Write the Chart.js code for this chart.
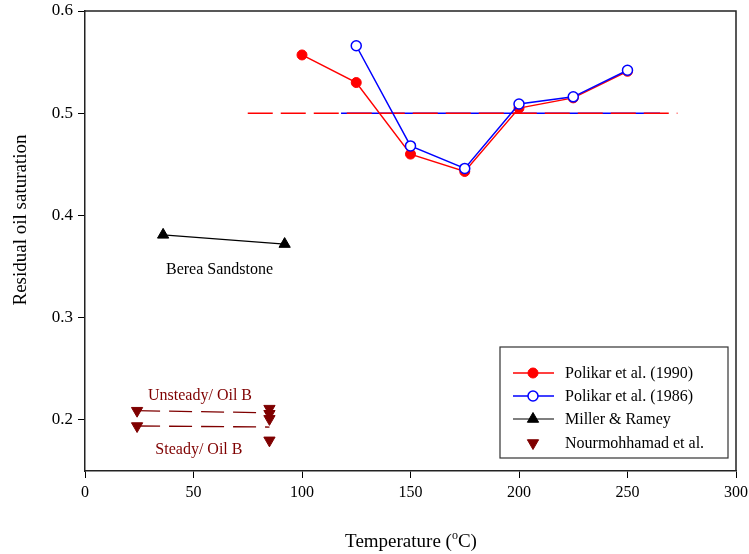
<!DOCTYPE html>
<html>
<head>
<meta charset="utf-8">
<script src="https://cdn.jsdelivr.net/npm/chart.js@4/dist/chart.umd.min.js"></script>
<style>
  html, body { margin: 0; padding: 0; background: #fff; }
  #wrap { width: 749px; height: 554px; }
</style>
</head>
<body>
<div id="wrap"><canvas id="c" width="749" height="554"></canvas></div>
<script>
// Axis ticks
const xTicks = [0, 50, 100, 150, 200, 250, 300];
const yTicks = [0.2, 0.3, 0.4, 0.5, 0.6];

// Polikar et al. (1990)
const polikar1990T = [100, 125, 150, 175, 200, 225, 250];
const polikar1990S = [0.557, 0.530, 0.460, 0.443, 0.505, 0.515, 0.541];

// Polikar et al. (1986)
const polikar1986T = [125, 150, 175, 200, 225, 250];
const polikar1986S = [0.566, 0.468, 0.446, 0.509, 0.516, 0.542];

// Miller & Ramey (Berea sandstone)
const millerT = [36, 92];
const millerS = [0.381, 0.372];

// Nourmohhamad et al.
const nourT = [24, 24, 85, 85, 85, 85];
const nourS = [0.209, 0.194, 0.211, 0.206, 0.201, 0.180];

// Trend lines through the Oil B runs
const unsteadyT = [24, 85];
const unsteadyS = [0.209, 0.207];
const steadyT = [24, 85];
const steadyS = [0.194, 0.193];

// Mean level lines for the two Polikar sets
const mean1990T = [75, 273];
const mean1990S = [0.5, 0.5];
const mean1986T = [118, 265];
const mean1986S = [0.5, 0.5];

// In-plot labels
const noteText = ['Berea Sandstone', 'Unsteady/ Oil B', 'Steady/ Oil B'];
const noteT = [62, 53, 52.5];
const noteS = [0.347, 0.2233, 0.1705];
const noteColor = ['#000000', '#7f0000', '#7f0000'];

const RED = '#ff0000', BLUE = '#0000ff', MAROON = '#7f0000';
const FONT = '"Liberation Serif", "Times New Roman", serif';

const pts = (xs, ys) => xs.map((x, i) => ({ x: x, y: ys[i] }));

// top and right sides of the plot frame
const framePlugin = {
  id: 'frame',
  afterDraw(chart) {
    const { ctx, chartArea: a } = chart;
    ctx.save();
    ctx.strokeStyle = '#222';
    ctx.lineWidth = 1.5;
    ctx.beginPath();
    ctx.moveTo(a.left, a.top);
    ctx.lineTo(a.right, a.top);
    ctx.lineTo(a.right, a.bottom);
    ctx.stroke();
    ctx.restore();
  }
};

// text labels placed at data coordinates
const notesPlugin = {
  id: 'notes',
  afterDatasetsDraw(chart) {
    const { ctx, scales } = chart;
    ctx.save();
    ctx.font = '16px ' + FONT;
    ctx.textAlign = 'center';
    ctx.textBaseline = 'middle';
    noteText.forEach((t, i) => {
      ctx.fillStyle = noteColor[i];
      ctx.fillText(t, scales.x.getPixelForValue(noteT[i]), scales.y.getPixelForValue(noteS[i]));
    });
    ctx.restore();
  }
};

// axis titles (x title carries a superscript "o")
const titlesPlugin = {
  id: 'titles',
  afterDraw(chart) {
    const { ctx } = chart;
    ctx.save();
    ctx.fillStyle = '#000';
    ctx.textBaseline = 'alphabetic';
    const big = '19px ' + FONT, small = '12px ' + FONT;
    const p1 = 'Temperature (', p2 = 'o', p3 = 'C)';
    ctx.font = big; const w1 = ctx.measureText(p1).width, w3 = ctx.measureText(p3).width;
    ctx.font = small; const w2 = ctx.measureText(p2).width;
    let x = 411 - (w1 + w2 + w3) / 2;
    const base = 547;
    ctx.textAlign = 'left';
    ctx.font = big; ctx.fillText(p1, x, base); x += w1;
    ctx.font = small; ctx.fillText(p2, x, base - 8); x += w2;
    ctx.font = big; ctx.fillText(p3, x, base);
    ctx.translate(21, 220);
    ctx.rotate(-Math.PI / 2);
    ctx.textAlign = 'center';
    ctx.textBaseline = 'middle';
    ctx.font = big;
    ctx.fillText('Residual oil saturation', 0, 0);
    ctx.restore();
  }
};

// boxed legend inside the plot area
const legendPlugin = {
  id: 'boxLegend',
  afterDraw(chart) {
    const { ctx } = chart;
    const box = { l: 500, t: 347, r: 728, b: 458 };
    ctx.save();
    ctx.fillStyle = '#fff';
    ctx.fillRect(box.l, box.t, box.r - box.l, box.b - box.t);
    ctx.strokeStyle = '#333';
    ctx.lineWidth = 1.2;
    ctx.strokeRect(box.l, box.t, box.r - box.l, box.b - box.t);
    const rows = [373, 396, 419, 443];
    const items = chart.data.datasets.filter(d => d.inLegend)
      .sort((a, b) => a.legendOrder - b.legendOrder);
    items.forEach((d, i) => {
      const y = rows[i];
      if (d.showLine) {
        ctx.setLineDash([]);
        ctx.strokeStyle = d.borderColor;
        ctx.lineWidth = d.borderWidth;
        ctx.beginPath(); ctx.moveTo(513, y); ctx.lineTo(554, y); ctx.stroke();
      }
      ctx.fillStyle = d.pointBackgroundColor;
      ctx.strokeStyle = d.pointBorderColor;
      ctx.lineWidth = d.pointBorderWidth;
      Chart.helpers.drawPoint(ctx, {
        pointStyle: d.pointStyle, rotation: d.pointRotation || 0,
        radius: d.pointRadius, borderWidth: d.pointBorderWidth
      }, 533, y);
      ctx.font = '16px ' + FONT;
      ctx.textBaseline = 'middle';
      ctx.textAlign = 'left';
      ctx.fillStyle = '#000';
      ctx.fillText(d.label, 565, y + 1);
    });
    ctx.restore();
  }
};

new Chart(document.getElementById('c'), {
  type: 'scatter',
  data: {
    datasets: [
      {
        label: 'Polikar et al. (1986)', inLegend: true, legendOrder: 1, order: 1,
        data: pts(polikar1986T, polikar1986S), showLine: true,
        borderColor: BLUE, borderWidth: 1.5,
        pointStyle: 'circle', pointRadius: 5, pointBorderWidth: 1.5,
        pointBackgroundColor: '#fff', pointBorderColor: BLUE
      },
      {
        label: 'Polikar et al. (1990)', inLegend: true, legendOrder: 0, order: 2,
        data: pts(polikar1990T, polikar1990S), showLine: true,
        borderColor: RED, borderWidth: 1.5,
        pointStyle: 'circle', pointRadius: 5, pointBorderWidth: 1,
        pointBackgroundColor: RED, pointBorderColor: RED
      },
      {
        label: 'Miller & Ramey', inLegend: true, legendOrder: 2, order: 3,
        data: pts(millerT, millerS), showLine: true,
        borderColor: '#000', borderWidth: 1.2,
        pointStyle: 'triangle', pointRadius: 6.5, pointBorderWidth: 1,
        pointBackgroundColor: '#000', pointBorderColor: '#000'
      },
      {
        label: 'Nourmohhamad et al.', inLegend: true, legendOrder: 3, order: 4,
        data: pts(nourT, nourS), showLine: false,
        pointStyle: 'triangle', pointRotation: 180, pointRadius: 6.5, pointBorderWidth: 1,
        pointBackgroundColor: MAROON, pointBorderColor: MAROON
      },
      {
        label: 'unsteady', data: pts(unsteadyT, unsteadyS), showLine: true, order: 5,
        borderColor: MAROON, borderWidth: 1.3, borderDash: [23, 9], pointRadius: 0
      },
      {
        label: 'steady', data: pts(steadyT, steadyS), showLine: true, order: 6,
        borderColor: MAROON, borderWidth: 1.3, borderDash: [23, 9], pointRadius: 0
      },
      {
        label: 'mean 1990', data: pts(mean1990T, mean1990S), showLine: true, order: 7,
        borderColor: RED, borderWidth: 1.5, borderDash: [25, 8], pointRadius: 0
      },
      {
        label: 'mean 1986', data: pts(mean1986T, mean1986S), showLine: true, order: 8,
        borderColor: BLUE, borderWidth: 1.5, pointRadius: 0
      }
    ]
  },
  options: {
    responsive: false,
    devicePixelRatio: 1,
    animation: false,
    events: [],
    layout: { padding: { top: 11, right: 13, left: 0, bottom: 0 } },
    plugins: { legend: { display: false }, tooltip: { enabled: false } },
    scales: {
      x: {
        type: 'linear', min: 0, max: 300,
        afterBuildTicks: s => { s.ticks = xTicks.map(v => ({ value: v })); },
        afterFit: s => { s.height = 83; s.paddingLeft = 0; s.paddingRight = 0; },
        grid: { drawOnChartArea: false, drawTicks: true, tickLength: 7, color: '#000', lineWidth: 1 },
        border: { display: true, color: '#222', width: 1.5 },
        ticks: { color: '#000', font: { family: FONT, size: 16 }, padding: 5, maxRotation: 0, callback: v => String(v) }
      },
      y: {
        min: 0.15, max: 0.6,
        afterBuildTicks: s => { s.ticks = yTicks.map(v => ({ value: v })); },
        afterFit: s => { s.width = 85; s.paddingTop = 0; s.paddingBottom = 0; },
        grid: { drawOnChartArea: false, drawTicks: true, tickLength: 7, color: '#000', lineWidth: 1 },
        border: { display: true, color: '#222', width: 1.5 },
        ticks: { color: '#000', font: { family: FONT, size: 17 }, padding: 5, callback: v => v.toFixed(1) }
      }
    }
  },
  plugins: [framePlugin, notesPlugin, titlesPlugin, legendPlugin]
});
</script>
</body>
</html>
